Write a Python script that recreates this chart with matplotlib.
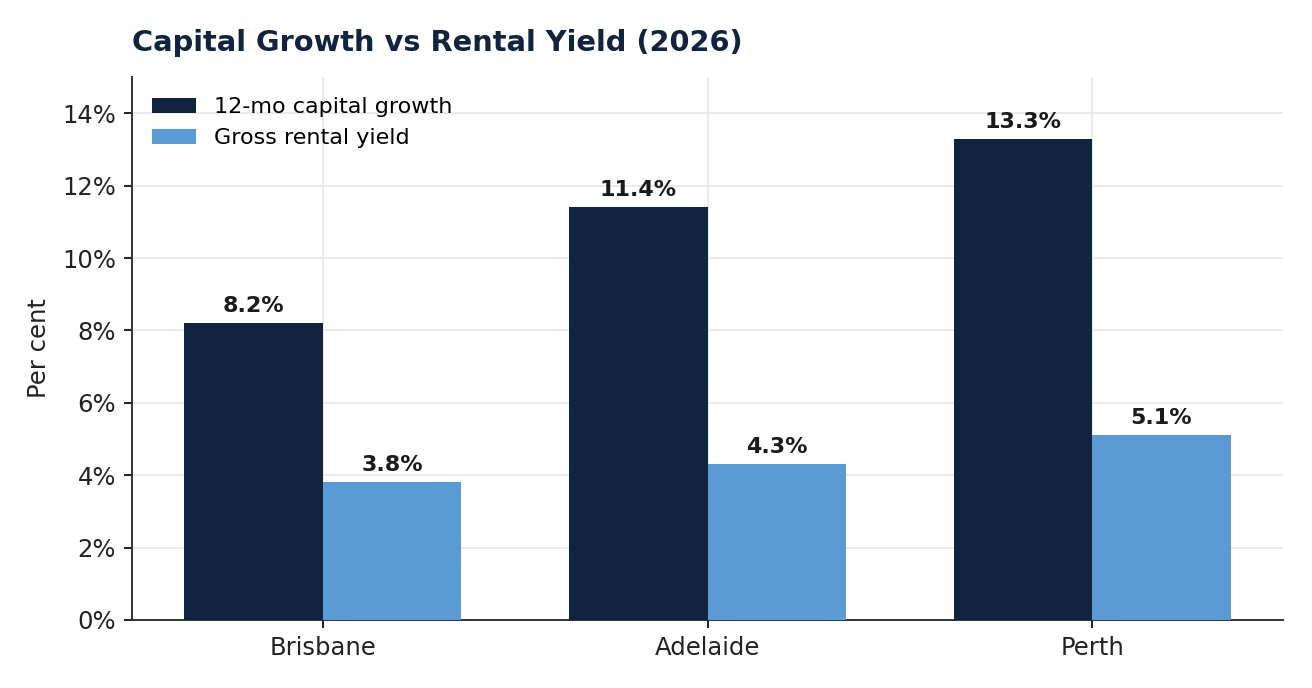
import numpy as np
import matplotlib
matplotlib.use('Agg')
import matplotlib.pyplot as plt
from matplotlib.ticker import FuncFormatter

cities = ['Brisbane', 'Adelaide', 'Perth']
capital_growth = [8.2, 11.4, 13.3]
rental_yield = [3.8, 4.3, 5.1]

navy = '#10233f'
blue = '#5b9bd5'

fig, ax = plt.subplots(figsize=(13.12, 6.88), dpi=100)
fig.subplots_adjust(left=0.1006, right=0.978, top=0.888, bottom=0.099)

x = np.arange(len(cities))
w = 0.36
b1 = ax.bar(x - w/2, capital_growth, w, color=navy, label='12-mo capital growth', zorder=3)
b2 = ax.bar(x + w/2, rental_yield, w, color=blue, label='Gross rental yield', zorder=3)

for bars, vals in ((b1, capital_growth), (b2, rental_yield)):
    for rect, v in zip(bars, vals):
        ax.annotate(f'{v:.1f}%', (rect.get_x() + rect.get_width()/2, v),
                    xytext=(0, 5), textcoords='offset points', ha='center', va='bottom',
                    fontsize=16, fontweight='bold', color='#1a1a1a')

ax.set_ylim(0, 15)
ax.set_yticks(np.arange(0, 15, 2))
ax.yaxis.set_major_formatter(FuncFormatter(lambda v, p: f'{v:.0f}%'))
ax.set_xticks(x)
ax.set_xticklabels(cities)
ax.tick_params(labelsize=17.5, colors='#222222', length=6, width=1.4, pad=5.5)
ax.set_ylabel('Per cent', fontsize=17.5, color='#222222', labelpad=8)
ax.grid(True, color='#e8e8e8', linewidth=1.2, zorder=0)
ax.set_axisbelow(True)
for s in ('top', 'right'):
    ax.spines[s].set_visible(False)
for s in ('left', 'bottom'):
    ax.spines[s].set_color('#333333')
    ax.spines[s].set_linewidth(1.4)

ax.set_title('Capital Growth vs Rental Yield (2026)', loc='left', fontsize=20.8,
             fontweight='bold', color=navy, pad=19)
ax.legend(loc='upper left', frameon=False, fontsize=16)

fig.savefig('out.png')
